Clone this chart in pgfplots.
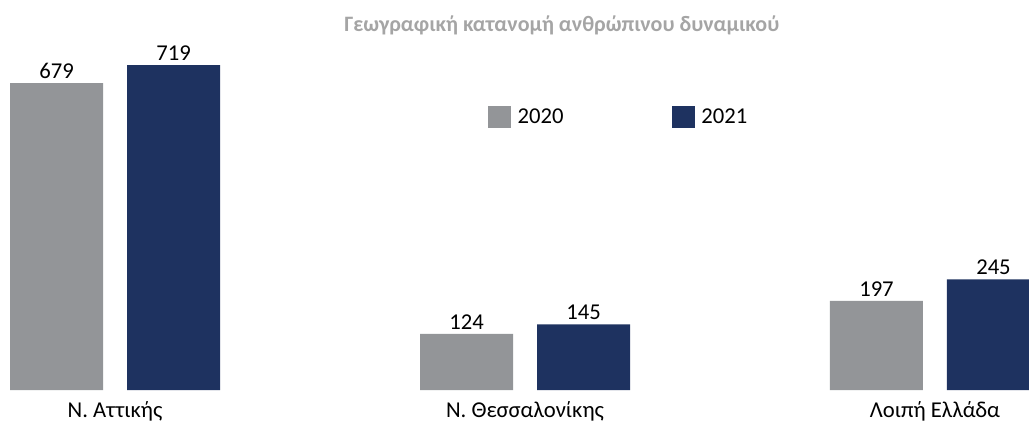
\documentclass[border=0pt]{standalone}
\usepackage{pgfplots}
\pgfplotsset{compat=1.18}
\usepackage{pgfplotstable}
\usepackage{fontspec}
\setmainfont{Carlito}
\definecolor{barGray}{HTML}{939598}
\definecolor{barNavy}{HTML}{1E3260}
\definecolor{titleGray}{HTML}{A5A5A5}

\pgfplotstableread{
x y20 y21
0 679 719
1 124 145
2 197 245
}\staffdata

\begin{document}
\begin{tikzpicture}
\begin{axis}[
  scale only axis, width=771.75pt, height=317.25pt,
  xmin=-0.2805, xmax=2.2293, ymin=-73, ymax=863,
  ybar=18pt, bar width=69.75pt,
  /pgf/number format/assume math mode=true,
  axis line style={draw=none}, ytick=\empty,
  xtick={0,1,2}, major tick length=0pt,
  xticklabels={Ν. Αττικής, Ν. Θεσσαλονίκης, Λοιπή Ελλάδα},
  xticklabel style={anchor=base, yshift=4.5pt, font=\fontsize{17}{19}\selectfont},
  nodes near coords,
  every node near coord/.append style={font=\fontsize{17}{19}\selectfont, text=black, inner sep=3.5pt},
  legend columns=2,
  legend style={at={(rel axis cs:0.474,0.7234)}, anchor=west, draw=none, fill=none,
    inner sep=0pt, font=\fontsize{17}{19}\selectfont,
    nodes={inner xsep=5pt},
    /tikz/every even column/.append style={column sep=76pt}},
]
\addplot[fill=barGray, draw=none,
  legend image code/.code={\fill[barGray] (0pt,-8.6pt) rectangle (17.25pt,8.6pt);}]
  table[x=x, y=y20] {\staffdata};
\addlegendentry{2020}
\addplot[fill=barNavy, draw=none,
  legend image code/.code={\fill[barNavy] (0pt,-8.6pt) rectangle (17.25pt,8.6pt);}]
  table[x=x, y=y21] {\staffdata};
\addlegendentry{2021}
\node[font=\bfseries\fontsize{16.5}{19}\selectfont, text=titleGray]
  at (rel axis cs:0.546,0.941) {Γεωγραφική κατανομή ανθρώπινου δυναμικού};
\coordinate (bl) at (rel axis cs:0,0);
\coordinate (tr) at (rel axis cs:1,1);
\end{axis}
\pgfresetboundingbox
\path (bl) rectangle (tr);
\end{tikzpicture}
\end{document}
